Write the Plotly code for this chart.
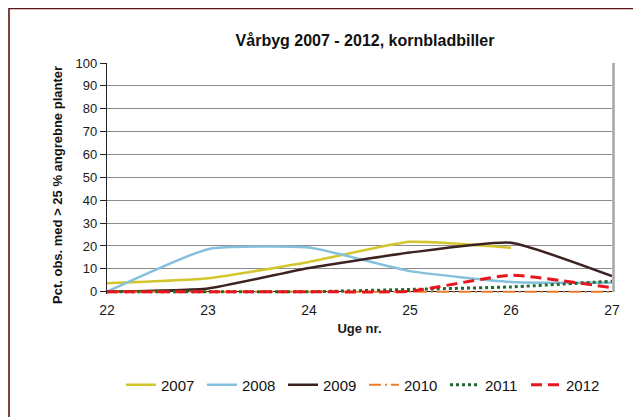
import plotly.graph_objects as go

# Uge nr. (week numbers)
weeks = [22, 23, 24, 25, 26, 27]

# Pct. obs. med > 25 % angrebne planter, per year
y2007 = [3.7, 5.9, 13.0, 21.8, 19.2, None]
y2008 = [0.0, 18.6, 19.3, 9.0, 4.3, 3.9]
y2009 = [0.0, 1.4, 10.4, 17.1, 21.4, 6.8]
y2010 = [0.0, 0.0, 0.0, 0.0, 0.0, 0.0]
y2011 = [0.0, 0.0, 0.0, 1.0, 2.1, 4.6]
y2012 = [0.0, 0.0, 0.0, 0.2, 7.2, 1.7]

years = ['2007', '2008', '2009', '2010', '2011', '2012']
series = [y2007, y2008, y2009, y2010, y2011, y2012]
colors = ['#d2c62c', '#85c1dc', '#3d2222', '#ec7a2c', '#1d6a30', '#e8161c']
dashes = ['solid', 'solid', 'solid', '12px,4px,2px,4px', 'dot', '11px,6px']
widths = [2.5, 2.5, 2.5, 2, 3, 3]

# the page body has an 8px margin, so the figure is drawn 8px smaller
OFF = 8
W, H = 641 - OFF, 417 - OFF
L, R, T, B = 107 - OFF, 29, 63 - OFF, 123

fig = go.Figure()

for name, ys, c, d, w in zip(years, series, colors, dashes, widths):
    fig.add_trace(go.Scatter(
        x=weeks, y=ys, name=name, mode='lines',
        line=dict(color=c, dash=d, width=w, shape='spline', smoothing=0.45),
        connectgaps=False))

font = 'Arial, Liberation Sans, sans-serif'

# pixel (screen) -> paper coordinates
pw, ph = W - L - R, H - T - B
def px_x(x):
    return (x - OFF - L) / pw
def px_y(y):
    return (H - B - (y - OFF)) / ph

# outer chart border (dark red, runs off the picture to the right and bottom)
fig.add_shape(type='rect', xref='paper', yref='paper',
              x0=px_x(9), x1=px_x(700), y0=px_y(8.5), y1=px_y(460),
              line=dict(color='#5e1414', width=1.6), layer='below')
# gray right edge of plot area
fig.add_shape(type='line', xref='paper', yref='paper',
              x0=px_x(613.5), x1=px_x(613.5), y0=px_y(63), y1=px_y(292),
              line=dict(color='#a6a6a6', width=2.5))

# y-axis title, placed like the original (slightly below the axis centre)
fig.add_annotation(text='<b>Pct. obs. med > 25 % angrebne planter</b>',
                   xref='paper', yref='paper', x=px_x(57), y=px_y(185),
                   xanchor='center', yanchor='middle', textangle=-90,
                   showarrow=False, font=dict(size=13, color='#111'))

fig.update_layout(
    width=W, height=H,
    margin=dict(l=L, r=R, t=T, b=B, autoexpand=False),
    paper_bgcolor='white', plot_bgcolor='white',
    font=dict(family=font, color='#1a1a1a', size=13),
    title=dict(text='<b>Vårbyg 2007 - 2012, kornbladbiller</b>',
               x=(365 - OFF) / W, xanchor='center',
               y=1 - (40 - OFF) / H, yanchor='middle',
               font=dict(size=16, color='#111')),
    showlegend=True,
    legend=dict(orientation='h', xref='container', yref='container',
                x=(121 - OFF) / W, xanchor='left',
                y=1 - (385 - OFF) / H, yanchor='middle',
                font=dict(size=15, color='#111'), itemwidth=30,
                entrywidth=36, entrywidthmode='pixels',
                bgcolor='rgba(0,0,0,0)'),
)

fig.update_xaxes(
    range=[22, 27], tickvals=weeks, showgrid=False, showline=False,
    zeroline=False, tickfont=dict(size=14), ticks='outside', ticklen=3,
    tickcolor='rgba(0,0,0,0)', automargin=False,
    title=dict(text='<b>Uge nr.</b>', font=dict(size=13), standoff=7))

fig.update_yaxes(
    range=[-1, 100], tickvals=list(range(0, 101, 10)),
    showgrid=True, gridcolor='#8c8c8c', gridwidth=1,
    zeroline=True, zerolinecolor='#222', zerolinewidth=1.2,
    showline=True, linecolor='#222', linewidth=1.2,
    ticks='outside', ticklen=6, tickcolor='#222',
    tickfont=dict(size=13), automargin=False)

fig.write_html("out.html")
